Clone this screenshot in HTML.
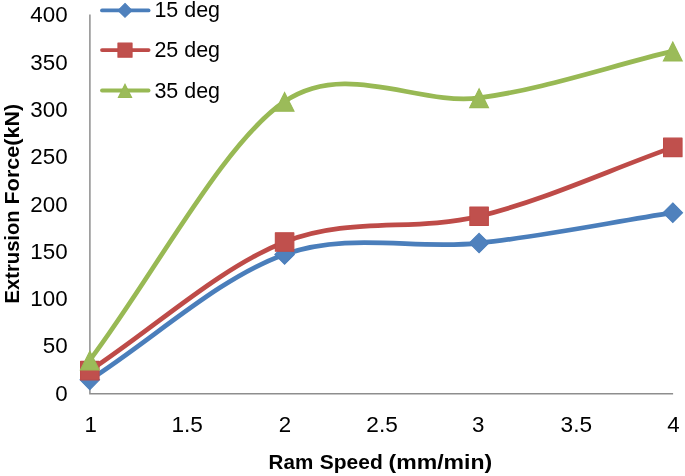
<!DOCTYPE html><html><head><meta charset="utf-8"><title>Chart</title><style>html,body{margin:0;padding:0;background:#fff}svg{display:block}text{filter:grayscale(1)}text{font-family:"Liberation Sans",sans-serif;fill:#000}</style></head><body>
<svg width="685" height="476" viewBox="0 0 685 476">
<rect width="685" height="476" fill="#fff"/>
<path d="M89.9,14.6 V393.7 H673.1" fill="none" stroke="#8e8e8e" stroke-width="1.5"/>
<path d="M89.80,379.87 C154.73,338.07 219.72,277.26 284.60,254.46 C349.48,231.67 414.40,250.08 479.10,243.11 C543.80,236.15 608.23,222.81 672.80,212.66" fill="none" stroke="#4A7EBB" stroke-width="4.7" stroke-linecap="round" stroke-linejoin="round"/>
<path d="M89.80,370.14 L99.53,379.87 L89.80,389.60 L80.07,379.87 Z" fill="#4F81BD" stroke="#4A7EBB" stroke-width="1.1" stroke-linejoin="miter"/>
<path d="M284.60,244.73 L294.33,254.46 L284.60,264.19 L274.87,254.46 Z" fill="#4F81BD" stroke="#4A7EBB" stroke-width="1.1" stroke-linejoin="miter"/>
<path d="M479.10,233.38 L488.83,243.11 L479.10,252.84 L469.37,243.11 Z" fill="#4F81BD" stroke="#4A7EBB" stroke-width="1.1" stroke-linejoin="miter"/>
<path d="M672.80,202.93 L682.53,212.66 L672.80,222.39 L663.07,212.66 Z" fill="#4F81BD" stroke="#4A7EBB" stroke-width="1.1" stroke-linejoin="miter"/>
<path d="M89.80,370.60 C154.73,327.73 219.72,267.70 284.60,241.98 C349.48,216.26 414.40,232.02 479.10,216.26 C543.80,200.49 608.23,170.36 672.80,147.41" fill="none" stroke="#BE4B48" stroke-width="4.7" stroke-linecap="round" stroke-linejoin="round"/>
<rect x="80.55" y="361.35" width="18.50" height="18.50" fill="#C0504D" stroke="#BE4B48" stroke-width="1.1" stroke-linejoin="round"/>
<rect x="275.35" y="232.73" width="18.50" height="18.50" fill="#C0504D" stroke="#BE4B48" stroke-width="1.1" stroke-linejoin="round"/>
<rect x="469.85" y="207.01" width="18.50" height="18.50" fill="#C0504D" stroke="#BE4B48" stroke-width="1.1" stroke-linejoin="round"/>
<rect x="663.55" y="138.16" width="18.50" height="18.50" fill="#C0504D" stroke="#BE4B48" stroke-width="1.1" stroke-linejoin="round"/>
<path d="M89.80,360.20 C154.73,273.98 223.09,142.99 284.60,101.54 C346.11,60.08 417.76,105.81 479.10,97.85 C540.44,89.88 608.23,66.70 672.80,51.13" fill="none" stroke="#98B954" stroke-width="4.7" stroke-linecap="round" stroke-linejoin="round"/>
<path d="M89.80,351.11 L99.22,369.95 L80.38,369.95 Z" fill="#9BBB59" stroke="#98B954" stroke-width="1.1" stroke-linejoin="miter"/>
<path d="M284.60,92.45 L294.02,111.29 L275.18,111.29 Z" fill="#9BBB59" stroke="#98B954" stroke-width="1.1" stroke-linejoin="miter"/>
<path d="M479.10,88.76 L488.52,107.60 L469.68,107.60 Z" fill="#9BBB59" stroke="#98B954" stroke-width="1.1" stroke-linejoin="miter"/>
<path d="M672.80,42.04 L682.22,60.88 L663.38,60.88 Z" fill="#9BBB59" stroke="#98B954" stroke-width="1.1" stroke-linejoin="miter"/>
<path d="M102.0,10.4 H148.6" stroke="#4A7EBB" stroke-width="3.8" stroke-linecap="round"/>
<path d="M125.00,3.47 L131.93,10.40 L125.00,17.33 L118.07,10.40 Z" fill="#4F81BD" stroke="#4A7EBB" stroke-width="1.1" stroke-linejoin="miter"/>
<text x="154.4" y="17.4" font-size="21.6" textLength="65.6" lengthAdjust="spacingAndGlyphs">15 deg</text>
<path d="M102.0,50.1 H148.6" stroke="#BE4B48" stroke-width="3.8" stroke-linecap="round"/>
<rect x="117.95" y="43.05" width="14.10" height="14.10" fill="#C0504D" stroke="#BE4B48" stroke-width="1.1" stroke-linejoin="round"/>
<text x="154.4" y="57.3" font-size="21.6" textLength="65.6" lengthAdjust="spacingAndGlyphs">25 deg</text>
<path d="M102.0,90.5 H148.6" stroke="#98B954" stroke-width="3.8" stroke-linecap="round"/>
<path d="M125.00,84.21 L131.62,97.45 L118.38,97.45 Z" fill="#9BBB59" stroke="#98B954" stroke-width="1.1" stroke-linejoin="miter"/>
<text x="154.4" y="98.1" font-size="21.6" textLength="65.6" lengthAdjust="spacingAndGlyphs">35 deg</text>
<text x="67.6" y="400.6" font-size="21.6" text-anchor="end" textLength="12.4" lengthAdjust="spacingAndGlyphs">0</text>
<text x="67.6" y="353.3" font-size="21.6" text-anchor="end" textLength="24.9" lengthAdjust="spacingAndGlyphs">50</text>
<text x="67.6" y="306.0" font-size="21.6" text-anchor="end" textLength="37.3" lengthAdjust="spacingAndGlyphs">100</text>
<text x="67.6" y="258.7" font-size="21.6" text-anchor="end" textLength="37.3" lengthAdjust="spacingAndGlyphs">150</text>
<text x="67.6" y="211.5" font-size="21.6" text-anchor="end" textLength="37.3" lengthAdjust="spacingAndGlyphs">200</text>
<text x="67.6" y="164.2" font-size="21.6" text-anchor="end" textLength="37.3" lengthAdjust="spacingAndGlyphs">250</text>
<text x="67.6" y="116.9" font-size="21.6" text-anchor="end" textLength="37.3" lengthAdjust="spacingAndGlyphs">300</text>
<text x="67.6" y="69.6" font-size="21.6" text-anchor="end" textLength="37.3" lengthAdjust="spacingAndGlyphs">350</text>
<text x="67.6" y="22.3" font-size="21.6" text-anchor="end" textLength="37.3" lengthAdjust="spacingAndGlyphs">400</text>
<text x="90.6" y="431.5" font-size="21.5" text-anchor="middle" textLength="12.4" lengthAdjust="spacingAndGlyphs">1</text>
<text x="187.2" y="431.5" font-size="21.5" text-anchor="middle" textLength="31.5" lengthAdjust="spacingAndGlyphs">1.5</text>
<text x="284.9" y="431.5" font-size="21.5" text-anchor="middle" textLength="12.4" lengthAdjust="spacingAndGlyphs">2</text>
<text x="382.1" y="431.5" font-size="21.5" text-anchor="middle" textLength="31.5" lengthAdjust="spacingAndGlyphs">2.5</text>
<text x="478.2" y="431.5" font-size="21.5" text-anchor="middle" textLength="12.4" lengthAdjust="spacingAndGlyphs">3</text>
<text x="576.3" y="431.5" font-size="21.5" text-anchor="middle" textLength="31.5" lengthAdjust="spacingAndGlyphs">3.5</text>
<text x="673.5" y="431.5" font-size="21.5" text-anchor="middle" textLength="12.4" lengthAdjust="spacingAndGlyphs">4</text>
<text x="268.6" y="468.9" font-size="20.2" font-weight="bold" textLength="44.6" lengthAdjust="spacingAndGlyphs">Ram</text>
<text x="319.8" y="468.9" font-size="20.2" font-weight="bold" textLength="63.0" lengthAdjust="spacingAndGlyphs">Speed</text>
<text x="388.6" y="468.9" font-size="20.2" font-weight="bold" textLength="103.6" lengthAdjust="spacingAndGlyphs">(mm/min)</text>
<g transform="translate(19.0,303.4) rotate(-90)"><text x="0.0" y="0.0" font-size="20.2" font-weight="bold" textLength="93.0" lengthAdjust="spacingAndGlyphs">Extrusion</text></g>
<g transform="translate(19.0,204.4) rotate(-90)"><text x="0.0" y="0.0" font-size="20.2" font-weight="bold" textLength="100.6" lengthAdjust="spacingAndGlyphs">Force(kN)</text></g>
</svg></body></html>
